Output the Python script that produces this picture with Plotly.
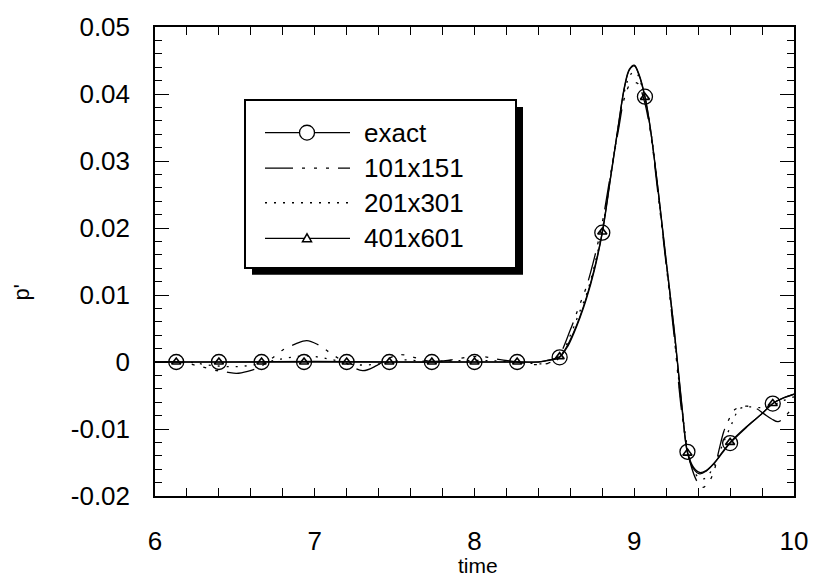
import plotly.graph_objects as go

# ---- exact solution -------------------------------------------------------
t_exact = [6.00, 6.50, 7.00, 7.50, 8.00, 8.30, 8.40, 8.45, 8.50, 8.533, 8.58, 8.62,
           8.66, 8.70, 8.75, 8.80, 8.85, 8.90, 8.94, 8.97, 9.00, 9.03, 9.067, 9.10,
           9.15, 9.20, 9.25, 9.30, 9.333, 9.37, 9.41, 9.45, 9.50, 9.55, 9.60, 9.70,
           9.80, 9.867, 9.93, 10.00]
p_exact = [0.0, 0.0, 0.0, 0.0, 0.0, 0.0, 0.0, 0.0002, 0.0004, 0.0007, 0.0022, 0.0042,
           0.0066, 0.0094, 0.0137, 0.0193, 0.0272, 0.0352, 0.0412, 0.0437, 0.0443, 0.0429, 0.0396, 0.0350,
           0.0255, 0.0150, 0.0048, -0.0070, -0.0134, -0.0157, -0.0165, -0.0162, -0.0151, -0.0136, -0.0121, -0.0098,
           -0.0077, -0.0062, -0.0054, -0.0048]

# sampled points of the exact solution (circle markers)
t_samples = [6.133, 6.400, 6.667, 6.933, 7.200, 7.467, 7.733, 8.000, 8.267, 8.533,
             8.800, 9.067, 9.333, 9.600, 9.867]
p_exact_samples = [0.0, 0.0, 0.0, 0.0, 0.0, 0.0, 0.0, 0.0, 0.0, 0.0007,
                   0.0193, 0.0396, -0.0134, -0.0121, -0.0062]

# ---- 101x151 grid ---------------------------------------------------------
t_101 = [6.00, 6.15, 6.22, 6.29, 6.39, 6.45, 6.51, 6.58, 6.66, 6.73, 6.80, 6.88,
         6.95, 7.02, 7.10, 7.20, 7.30, 7.39, 7.46, 7.53, 7.62, 7.72, 7.85, 7.95,
         8.05, 8.15, 8.27, 8.40, 8.48, 8.53, 8.60, 8.65, 8.70, 8.75, 8.80, 8.85,
         8.90, 8.94, 8.98, 9.02, 9.06, 9.10, 9.15, 9.20, 9.25, 9.30, 9.35, 9.40,
         9.43, 9.47, 9.50, 9.53, 9.56, 9.59, 9.63, 9.70, 9.76, 9.81, 9.86, 9.90,
         9.95, 10.00]
p_101 = [0.0, 0.0, -0.0003, -0.0007, -0.0013, -0.0015, -0.0017, -0.0014, -0.0007, 0.0005, 0.0018, 0.0027,
         0.0032, 0.0026, 0.0013, -0.0002, -0.0013, -0.0005, 0.0005, 0.0011, 0.0007, 0.0001, 0.0003, 0.0007,
         0.0008, 0.0004, 0.0, -0.0004, 0.0, 0.0010, 0.0048, 0.0080, 0.0112, 0.0155, 0.0208, 0.0278,
         0.0345, 0.0395, 0.0416, 0.0416, 0.0392, 0.0345, 0.0248, 0.0145, 0.0038, -0.0080, -0.0150, -0.0181,
         -0.0187, -0.0178, -0.0162, -0.0132, -0.0104, -0.0087, -0.0071, -0.0066, -0.0069, -0.0077, -0.0085, -0.0089,
         -0.0080, -0.0064]

# ---- 201x301 grid ---------------------------------------------------------
t_201 = [6.00, 6.20, 6.35, 6.50, 6.65, 6.80, 6.95, 7.10, 7.25, 7.40, 7.55, 7.70,
         7.90, 8.10, 8.30, 8.45, 8.53, 8.60, 8.65, 8.70, 8.75, 8.80, 8.85, 8.90,
         8.94, 8.98, 9.01, 9.05, 9.10, 9.15, 9.20, 9.25, 9.30, 9.35, 9.40, 9.44,
         9.50, 9.55, 9.60, 9.66, 9.72, 9.80, 9.87, 9.93, 10.00]
p_201 = [0.0, 0.0, -0.0005, -0.0007, -0.0003, 0.0005, 0.0009, 0.0004, -0.0004, -0.0003, 0.0003, 0.0001,
         0.0002, 0.0002, -0.0001, -0.0002, 0.0006, 0.0040, 0.0070, 0.0100, 0.0143, 0.0197, 0.0274, 0.0350,
         0.0405, 0.0430, 0.0432, 0.0410, 0.0350, 0.0255, 0.0152, 0.0045, -0.0074, -0.0145, -0.0172, -0.0174,
         -0.0155, -0.0125, -0.0098, -0.0070, -0.0067, -0.0068, -0.0064, -0.0058, -0.0052]

# ---- 401x601 grid ---------------------------------------------------------
t_401 = [6.00, 6.50, 7.00, 7.50, 8.00, 8.30, 8.40, 8.45, 8.50, 8.533, 8.58, 8.62,
         8.66, 8.70, 8.75, 8.80, 8.85, 8.90, 8.94, 8.97, 9.00, 9.03, 9.067, 9.10,
         9.15, 9.20, 9.25, 9.30, 9.333, 9.37, 9.41, 9.45, 9.50, 9.55, 9.60, 9.70,
         9.80, 9.867, 9.93, 10.00]
p_401 = [0.0, 0.0, 0.0001, 0.0, 0.0, 0.0, 0.0, 0.0002, 0.0005, 0.0008, 0.0024, 0.0044,
         0.0068, 0.0096, 0.0139, 0.0194, 0.0273, 0.0352, 0.0411, 0.0436, 0.0442, 0.0428, 0.0395, 0.0350,
         0.0255, 0.0150, 0.0047, -0.0071, -0.0136, -0.0159, -0.0167, -0.0163, -0.0151, -0.0135, -0.0120, -0.0097,
         -0.0077, -0.0062, -0.0054, -0.0048]

t_401_samples = t_samples
p_401_samples = [0.0, 0.0, 0.0, 0.0, 0.0, 0.0, 0.0, 0.0, 0.0, 0.0008,
                 0.0194, 0.0395, -0.0136, -0.0120, -0.0062]

# axis ticks
x_ticks = [6, 7, 8, 9, 10]
x_tick_text = ["6", "7", "8", "9", "10"]
y_ticks = [-0.02, -0.01, 0.0, 0.01, 0.02, 0.03, 0.04, 0.05]
y_tick_text = ["-0.02", "-0.01", "0", "0.01", "0.02", "0.03", "0.04", "0.05"]

legend_names = ["exact", "101x151", "201x301", "401x601"]

FONT = "Liberation Sans, Arial, Helvetica, sans-serif"
DASH_101 = "28px,9px,3px,9px,3px,9px,3px,9px"
DASH_201 = "2px,7px"

fig = go.Figure()

fig.add_trace(go.Scatter(x=t_exact, y=p_exact, mode="lines", line_shape="spline",
                         line=dict(color="black", width=1.4), name=legend_names[0]))
fig.add_trace(go.Scatter(x=t_101, y=p_101, mode="lines", line_shape="spline",
                         line=dict(color="black", width=1.3, dash=DASH_101), name=legend_names[1]))
fig.add_trace(go.Scatter(x=t_201, y=p_201, mode="lines", line_shape="spline",
                         line=dict(color="black", width=1.3, dash=DASH_201), name=legend_names[2]))
fig.add_trace(go.Scatter(x=t_401, y=p_401, mode="lines", line_shape="spline",
                         line=dict(color="black", width=1.2), name=legend_names[3]))
fig.add_trace(go.Scatter(x=t_samples, y=p_exact_samples, mode="markers",
                         marker=dict(symbol="circle-open", size=15, color="black",
                                     line=dict(color="black", width=1.3)),
                         name=legend_names[0]))
fig.add_trace(go.Scatter(x=t_401_samples, y=p_401_samples, mode="markers",
                         marker=dict(symbol="triangle-up-open", size=8, color="black",
                                     line=dict(color="black", width=1.6)),
                         name=legend_names[3]))

# plot area in pixels
L, R, T, B = 155, 794, 21, 496
W, H = R - L, B - T


def px(x):
    return (x - L) / W


def py(y):
    return (B - y) / H


shapes = []
annotations = []

# legend box with drop shadow
bx0, by0, bx1, by1 = 245, 95, 516, 265
shadow = 7
shapes.append(dict(type="rect", xref="paper", yref="paper",
                   x0=px(bx0 + shadow), x1=px(bx1 + shadow), y0=py(by1 + shadow), y1=py(by0 + shadow),
                   fillcolor="black", line=dict(width=0), layer="above"))
shapes.append(dict(type="rect", xref="paper", yref="paper",
                   x0=px(bx0), x1=px(bx1), y0=py(by1), y1=py(by0),
                   fillcolor="white", line=dict(color="black", width=2), layer="above"))

row_y = [128, 164, 199, 235]
row_dash = ["solid", DASH_101, DASH_201, "solid"]
lx0, lx1, mx = 265, 350, 307
for name, yy, dash in zip(legend_names, row_y, row_dash):
    shapes.append(dict(type="line", xref="paper", yref="paper",
                       x0=px(lx0), x1=px(lx1), y0=py(yy), y1=py(yy),
                       line=dict(color="black", width=1.3, dash=dash), layer="above"))
    annotations.append(dict(xref="paper", yref="paper", x=px(362), y=py(yy),
                            text=name, showarrow=False, xanchor="left", yanchor="middle",
                            font=dict(family=FONT, size=26, color="black")))

# legend sample markers
r = 7.5
shapes.append(dict(type="circle", xref="paper", yref="paper",
                   x0=px(mx - r), x1=px(mx + r), y0=py(row_y[0] + r), y1=py(row_y[0] - r),
                   fillcolor="white", line=dict(color="black", width=1.3), layer="above"))
ty = row_y[3]
tri = "M {:.5f},{:.5f} L {:.5f},{:.5f} L {:.5f},{:.5f} Z".format(
    px(mx - 4.5), py(ty + 3.5), px(mx + 4.5), py(ty + 3.5), px(mx), py(ty - 4.5))
shapes.append(dict(type="path", xref="paper", yref="paper", path=tri,
                   fillcolor="white", line=dict(color="black", width=1.5), layer="above"))

# axis titles
annotations.append(dict(xref="paper", yref="paper", x=px(478), y=py(566), text="time",
                        showarrow=False, xanchor="center", yanchor="middle",
                        font=dict(family=FONT, size=21, color="black")))
annotations.append(dict(xref="paper", yref="paper", x=px(22), y=py(290), text="p'",
                        showarrow=False, xanchor="center", yanchor="middle", textangle=-90,
                        font=dict(family=FONT, size=22, color="black")))

fig.update_layout(
    width=820, height=578,
    margin=dict(l=L, r=820 - R, t=T, b=578 - B),
    paper_bgcolor="white", plot_bgcolor="white",
    showlegend=False,
    shapes=shapes, annotations=annotations,
    xaxis=dict(range=[6, 10], tickvals=x_ticks, ticktext=x_tick_text,
               showgrid=False, zeroline=False, showline=True, linecolor="black", linewidth=1.5,
               mirror="ticks", ticks="inside", ticklen=8, tickwidth=1.2, tickcolor="black",
               ticklabelstandoff=21,
               minor=dict(dtick=0.2, tick0=6, ticks="inside", ticklen=8, tickwidth=1.2,
                          tickcolor="black", showgrid=False),
               tickfont=dict(family=FONT, size=26, color="black")),
    yaxis=dict(range=[-0.02, 0.05], tickvals=y_ticks, ticktext=y_tick_text,
               showgrid=False, zeroline=False, showline=True, linecolor="black", linewidth=1.5,
               mirror="ticks", ticks="inside", ticklen=14, tickwidth=1.2, tickcolor="black",
               ticklabelstandoff=18,
               minor=dict(dtick=0.002, tick0=0, ticks="inside", ticklen=7, tickwidth=1.2,
                          tickcolor="black", showgrid=False),
               tickfont=dict(family=FONT, size=26, color="black")),
)

fig.write_html("out.html")
